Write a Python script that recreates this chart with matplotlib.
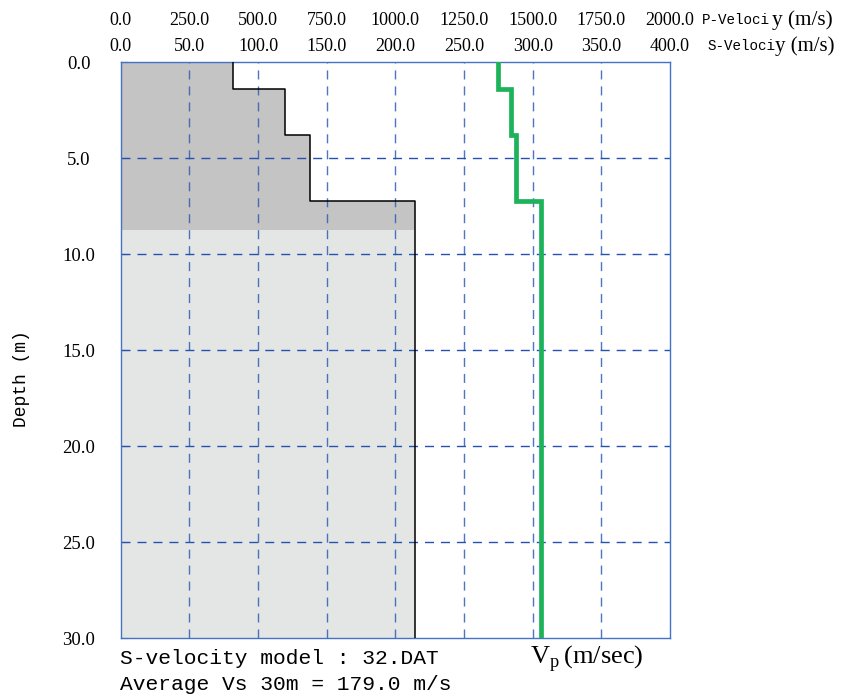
import numpy as np
import matplotlib
matplotlib.use('Agg')
import matplotlib.pyplot as plt

plt.rcParams['mathtext.fontset'] = 'custom'
plt.rcParams['mathtext.rm'] = 'Liberation Serif'

SERIF = 'Liberation Serif'
MONO = 'Liberation Mono'

# layer model
layer_top = [0.0, 1.4, 3.8, 7.2]
layer_bot = [1.4, 3.8, 7.2, 30.0]
vs = [82.0, 120.0, 138.0, 214.0]
vp = [1375.0, 1420.0, 1440.0, 1530.0]
shade_depth = 8.75

s_ticks = np.arange(0, 401, 50)
p_ticks = np.arange(0, 2001, 250)
depth_ticks = np.arange(0, 31, 5)

model_name = '32.DAT'
vs30 = 179.0

fig = plt.figure(figsize=(8.42, 6.97), dpi=100)
ax = fig.add_axes([0.1433, 0.0842, 0.6524, 0.8264])

# shaded area under the Vs profile
for top, bot, v in zip(layer_top, layer_bot, vs):
    if top < shade_depth:
        ax.fill_betweenx([top, min(bot, shade_depth)], 0, v, color='#c4c4c4', lw=0, zorder=1)
    if bot > shade_depth:
        ax.fill_betweenx([max(top, shade_depth), bot], 0, v, color='#e4e6e6', lw=0, zorder=1)

# step lines
z = np.repeat(np.r_[layer_top, layer_bot[-1]], 2)[1:-1]
ax.plot(np.repeat(vs, 2), z, color='black', lw=1.1, zorder=3)
ax.plot(np.repeat(vp, 2) / 5.0, z, color='#1db35a', lw=3.4, zorder=4,
        solid_joinstyle='miter')

# grid
for x in s_ticks[1:-1]:
    ax.axvline(x, color='#2f5db3', lw=1.0, ls=(0, (6.5, 5)), alpha=0.85, zorder=2)
for d in depth_ticks[1:-1]:
    ax.axhline(d, color='#2453ad', lw=1.0, ls=(0, (6.5, 5)), zorder=2)

ax.set_xlim(0, 400)
ax.set_ylim(30, 0)
for sp in ax.spines.values():
    sp.set_color('#4472c4')
    sp.set_linewidth(1.0)

ax.xaxis.tick_top()
ax.set_xticks(s_ticks)
ax.set_xticklabels(['%.1f' % t for t in s_ticks], fontfamily=SERIF, fontsize=13)
ax.tick_params(axis='x', length=0, pad=5)

ax.set_yticks(depth_ticks)
ax.set_yticklabels(['%.1f' % t for t in depth_ticks], fontfamily=SERIF, fontsize=13.5)
ax.tick_params(axis='y', direction='in', length=5, color='#4472c4', pad=30)
for lab in ax.get_yticklabels():
    lab.set_horizontalalignment('center')

sec = ax.secondary_xaxis('top', functions=(lambda x: x * 5.0, lambda x: x / 5.0))
sec.set_xticks(p_ticks)
sec.set_xticklabels(['%.1f' % t for t in p_ticks], fontfamily=SERIF, fontsize=13)
sec.tick_params(axis='x', length=0, pad=24)
sec.spines['top'].set_visible(False)

# axis titles
fig.text(702 / 842, 1 - 20 / 697, 'P-Veloci', fontfamily=MONO, fontsize=10.3, va='center')
fig.text(772 / 842, 1 - 20 / 697, 'y (m/s)', fontfamily=SERIF, fontsize=15.3, va='center')
fig.text(707 / 842, 1 - 46 / 697, 'S-Veloci', fontfamily=MONO, fontsize=10.3, va='center')
fig.text(775 / 842, 1 - 46 / 697, 'y (m/s)', fontfamily=SERIF, fontsize=15, va='center')

fig.text(22 / 842, 1 - 379 / 697, 'Depth (m)', fontfamily=MONO, fontsize=13,
         rotation=90, ha='center', va='center')

fig.text(120 / 842, 1 - 658 / 697, 'S-velocity model : ' + model_name,
         fontfamily=MONO, fontsize=15.3, va='center')
fig.text(120 / 842, 1 - 685 / 697, 'Average Vs 30m = %.1f m/s' % vs30,
         fontfamily=MONO, fontsize=15.3, va='center')
fig.text(530 / 842, 1 - 658 / 697, r'$\mathrm{V}_\mathrm{p}\,\mathrm{(m/sec)}$',
         fontsize=19, va='center')

fig.savefig('out.png', dpi=100)
